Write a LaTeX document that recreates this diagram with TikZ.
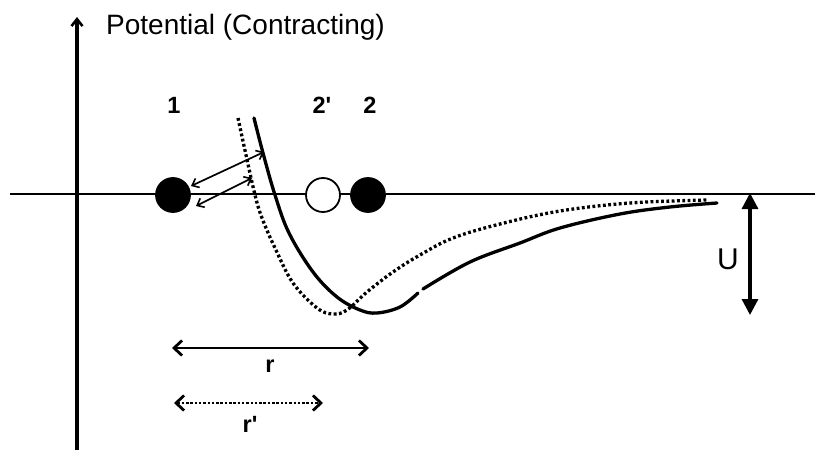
\documentclass[tikz,border=0pt]{standalone}
\usepackage{fontspec}
\setmainfont{Liberation Sans}[Ligatures=TeXOff]
\usetikzlibrary{arrows.meta}
\begin{document}
\begin{tikzpicture}[x=1pt,y=-1pt,
  lbl/.style={font=\fontsize{23.5}{23.5}\selectfont\bfseries, inner sep=0pt},
  particle/.style={circle, draw=black, line width=1.8pt, minimum size=34pt, inner sep=0pt},
  solidc/.style={line width=3.3pt, line cap=round},
  dotc/.style={line width=3.3pt, dash pattern=on 2.8pt off 2.5pt},
  small arrow/.style={line width=1.7pt, {Straight Barb[length=6pt,width=10pt,line width=1.6pt]}-{Straight Barb[length=6pt,width=10pt,line width=1.6pt]}},
  big arrow/.style={line width=2.9pt, {Straight Barb[length=8pt,width=15pt,line width=2.8pt]}-{Straight Barb[length=8pt,width=15pt,line width=2.8pt]}}
]
\useasboundingbox (0,0) rectangle (815,450);
% axes
\coordinate (ybot) at (77,450);
\coordinate (ytop) at (77,17);
\draw[line width=3.2pt, -{Straight Barb[length=7pt,width=11pt,line width=2.6pt]}] (ybot) -- (ytop);
\coordinate (xl) at (10,194);
\coordinate (xr) at (815,194);
\draw[line width=2.2pt] (xl) -- (xr);
\node[anchor=west, font=\fontsize{28}{28}\selectfont, inner sep=0pt] (title) at (106,27) {Potential (Contracting)};
% labels
\node[lbl] (l1) at (174,105) {1};
\node[lbl] (l2p) at (322,105) {2'};
\node[lbl] (l2) at (370,105) {2};
% particles
\node[particle, fill=black] (p1) at (173,195) {};
\node[particle, fill=white] (p2p) at (323,195) {};
\node[particle, fill=black] (p2) at (368,195) {};
% dotted curve
\draw[dotc] plot[smooth, tension=0.6] coordinates {(238,118) (246,155) (255,195) (262,218) (275,248) (293,283) (317,308) (333,314) (347,310) (367,292) (393,272) (420,255) (453,238) (500,224) (560,211) (630,203) (707,200)};
% solid curve (two pieces)
\draw[solidc] plot[smooth, tension=0.6] coordinates {(254,118) (263,153) (275,195) (289,233) (313,272) (337,297) (360,310) (377,313) (400,307) (418,293)};
\draw[solidc] plot[smooth, tension=0.6] coordinates {(423,289) (470,262) (520,243) (560,228) (620,214) (670,207) (717,203)};
% small arrows
\coordinate (a1s) at (191,186);
\coordinate (a1e) at (264,152);
\coordinate (a2s) at (196,206);
\coordinate (a2e) at (252,178);
\draw[small arrow] (a1s) -- (a1e);
\draw[small arrow] (a2s) -- (a2e);
% U arrow
\coordinate (ut) at (750,193);
\coordinate (ub) at (750,315);
\draw[line width=3.2pt, {Triangle[length=16pt,width=16pt]}-{Triangle[length=16pt,width=16pt]}] (ut) -- (ub);
\node[font=\fontsize{30}{30}\selectfont, inner sep=0pt] (U) at (728,259) {U};
% r arrows
\coordinate (rs) at (172,348);
\coordinate (re) at (369,348);
\draw[big arrow] (rs) -- (re);
\node[lbl] (r) at (270,366) {r};
\coordinate (rps) at (174,403);
\coordinate (rpe) at (323,403);
\draw[big arrow, dash pattern=on 2.5pt off 1.8pt] (rps) -- (rpe);
\node[lbl] (rp) at (250,424) {r'};
\end{tikzpicture}
\end{document}
